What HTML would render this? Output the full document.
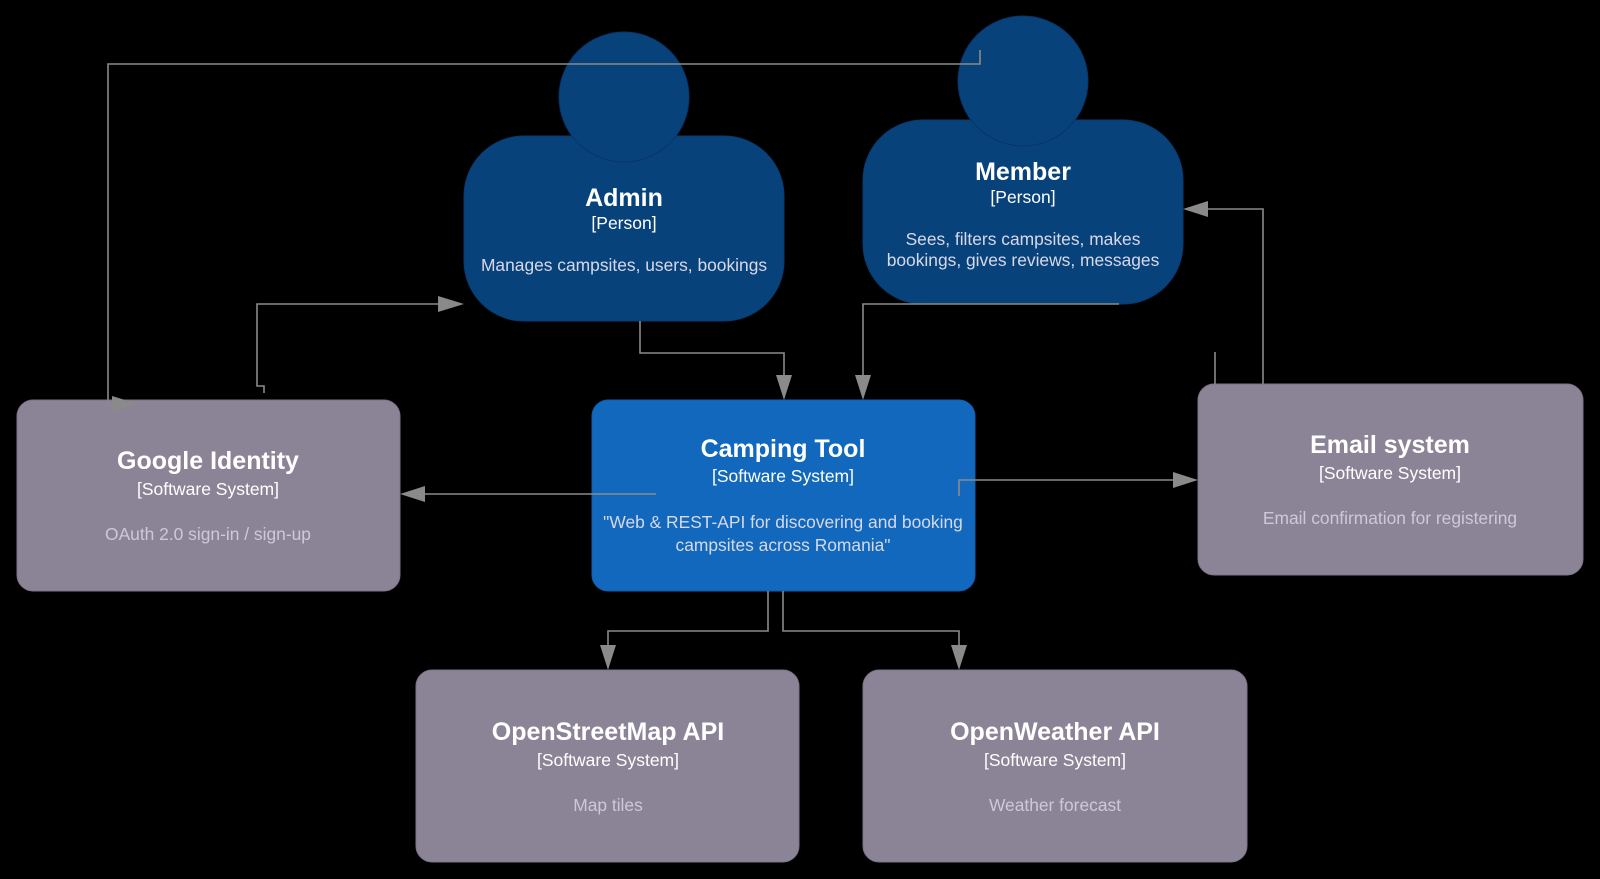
<!DOCTYPE html>
<html><head><meta charset="utf-8"><style>
html,body{margin:0;padding:0;background:#000;width:1600px;height:879px;overflow:hidden}
text{font-family:"Liberation Sans",Arial,sans-serif;text-anchor:middle}
.t{font-size:25px;font-weight:bold;fill:#fff}
.s{font-size:17.5px;fill:#fff}
.d{font-size:17.4px;fill:#d8d8e8}
.dx{font-size:17.4px;fill:#cfc8d8}
.l{stroke:#8a8a8a;stroke-width:1.6;fill:none}
.a{fill:#8a8a8a}
</style></head><body>
<svg width="1600" height="879" xmlns="http://www.w3.org/2000/svg">
<rect width="1600" height="879" fill="#000"/>
<rect x="464" y="136" width="320" height="185" rx="60" fill="#08427b" stroke="#073b6f"/>
<circle cx="624" cy="97" r="65" fill="#08427b" stroke="#073568"/>
<text class="t" x="624" y="206">Admin</text>
<text class="s" x="624" y="229">[Person]</text>
<text class="d" x="624" y="271">Manages campsites, users, bookings</text>
<rect x="863" y="120" width="320" height="184" rx="60" fill="#08427b" stroke="#073b6f"/>
<circle cx="1023" cy="81" r="65" fill="#08427b" stroke="#073568"/>
<text class="t" x="1023" y="180">Member</text>
<text class="s" x="1023" y="203">[Person]</text>
<text class="d" x="1023" y="245">Sees, filters campsites, makes</text>
<text class="d" x="1023" y="266">bookings, gives reviews, messages</text>
<rect x="17" y="400" width="383" height="191" rx="16" fill="#8b8497" stroke="#7a7386"/>
<text class="t" x="208" y="469">Google Identity</text>
<text class="s" x="208" y="495">[Software System]</text>
<text class="dx" x="208" y="540">OAuth 2.0 sign-in / sign-up</text>
<rect x="592" y="400" width="383" height="191" rx="16" fill="#1168bd" stroke="#0f5eaa"/>
<text class="t" x="783" y="457">Camping Tool</text>
<text class="s" x="783" y="482">[Software System]</text>
<text class="d" x="783" y="528">"Web &amp; REST-API for discovering and booking</text>
<text class="d" x="783" y="551">campsites across Romania"</text>
<rect x="1198" y="384" width="385" height="191" rx="16" fill="#8b8497" stroke="#7a7386"/>
<text class="t" x="1390" y="453">Email system</text>
<text class="s" x="1390" y="479">[Software System]</text>
<text class="dx" x="1390" y="524">Email confirmation for registering</text>
<rect x="416" y="670" width="383" height="192" rx="16" fill="#8b8497" stroke="#7a7386"/>
<text class="t" x="608" y="740">OpenStreetMap API</text>
<text class="s" x="608" y="766">[Software System]</text>
<text class="dx" x="608" y="811">Map tiles</text>
<rect x="863" y="670" width="384" height="192" rx="16" fill="#8b8497" stroke="#7a7386"/>
<text class="t" x="1055" y="740">OpenWeather API</text>
<text class="s" x="1055" y="766">[Software System]</text>
<text class="dx" x="1055" y="811">Weather forecast</text>
<path class="l" d="M980 50 V64 H108 V404 H118"/>
<polygon class="a" points="112,396 138,404 112,412"/>
<path class="l" d="M264 393 V386 H257 V304 H440"/>
<polygon class="a" points="438,296 464,304 438,312"/>
<path class="l" d="M640 321 V353 H784 V378"/>
<polygon class="a" points="776,375 784,400 792,375"/>
<path class="l" d="M1119 304 H863 V378"/>
<polygon class="a" points="855,375 863,400 871,375"/>
<path class="l" d="M1263 384 V209 H1205"/>
<polygon class="a" points="1208,201 1183,209 1208,217"/>
<path class="l" d="M1215 352 V384"/>
<path class="l" d="M656 494 H420"/>
<polygon class="a" points="425,486 400,494 425,502"/>
<path class="l" d="M959 496 V480 H1175"/>
<polygon class="a" points="1173,472 1198,480 1173,488"/>
<path class="l" d="M768 591 V631 H608 V648"/>
<polygon class="a" points="600,645 608,670 616,645"/>
<path class="l" d="M783 591 V631 H959 V648"/>
<polygon class="a" points="951,645 959,670 967,645"/>
</svg>
</body></html>
